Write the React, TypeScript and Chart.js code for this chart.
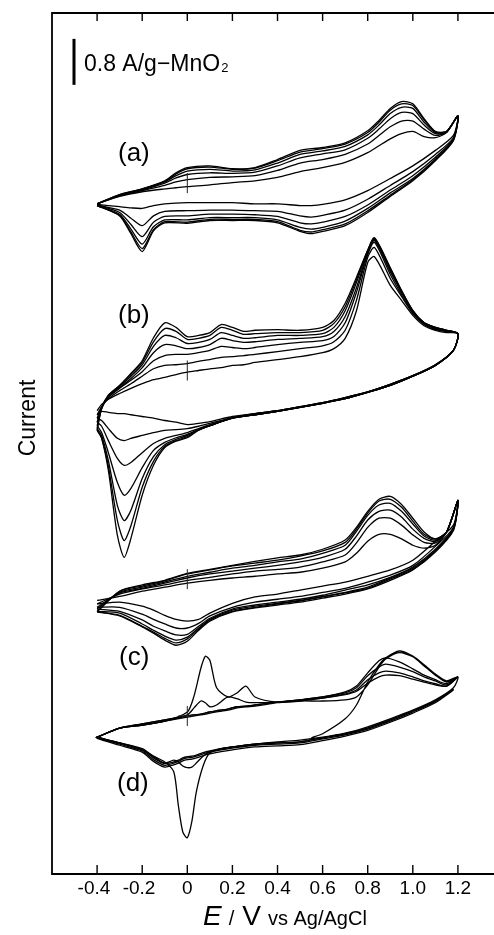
import { useEffect, useRef } from 'react';
import { Chart, registerables } from 'chart.js';

Chart.register(...registerables);

const FONT = '"Liberation Sans", Arial, Helvetica, sans-serif';

// Potential axis (V vs Ag/AgCl)
const xTicks = [-0.4, -0.2, 0, 0.2, 0.4, 0.6, 0.8, 1.0, 1.2];
const xTickLabels = ['-0.4', '-0.2', '0', '0.2', '0.4', '0.6', '0.8', '1.0', '1.2'];

// Stacked voltammograms: label and zero-current level (A/g) of each one
const panelLabels = ['(a)', '(b)', '(c)', '(d)'];
const panelZero = [4.53, 1.27, -2.36, -4.74];

// Current scale bar: 0.8 A/g per MnO2 mass
const scaleBarTop = 7.04;
const scaleBarLength = 0.8;

// ---------- (a) ----------
const aAnodicE = [-0.4, -0.3, -0.2, -0.1, -0.05, 0, 0.1, 0.2, 0.3, 0.4, 0.5, 0.6, 0.7, 0.8, 0.85, 0.9, 0.95, 1.0, 1.05, 1.1, 1.15, 1.2];
const aCathodicE = [1.18, 1.1, 1.0, 0.9, 0.8, 0.7, 0.6, 0.55, 0.5, 0.4, 0.3, 0.2, 0.1, 0, -0.1, -0.15, -0.2, -0.25, -0.3, -0.4];
const aAnodicI = [
  [-0.36, -0.23, -0.15, -0.10, -0.08, -0.06, -0.03, 0.01, 0.04, 0.10, 0.20, 0.27, 0.36, 0.53, 0.65, 0.77, 0.86, 0.90, 0.81, 0.79, 0.88, 1.17],
  [-0.36, -0.22, -0.13, -0.04, 0.02, 0.06, 0.10, 0.11, 0.13, 0.22, 0.35, 0.41, 0.50, 0.68, 0.83, 0.98, 1.08, 1.08, 0.94, 0.83, 0.89, 1.17],
  [-0.36, -0.21, -0.12, 0.00, 0.09, 0.15, 0.18, 0.17, 0.19, 0.30, 0.44, 0.51, 0.58, 0.78, 0.94, 1.12, 1.23, 1.21, 1.01, 0.86, 0.89, 1.17],
  [-0.36, -0.21, -0.11, 0.02, 0.13, 0.21, 0.24, 0.21, 0.23, 0.35, 0.50, 0.56, 0.64, 0.84, 1.01, 1.21, 1.32, 1.30, 1.06, 0.88, 0.90, 1.17],
  [-0.36, -0.20, -0.10, 0.03, 0.16, 0.25, 0.28, 0.24, 0.26, 0.39, 0.54, 0.60, 0.68, 0.88, 1.06, 1.27, 1.38, 1.35, 1.10, 0.89, 0.90, 1.17],
  [-0.36, -0.20, -0.10, 0.04, 0.18, 0.27, 0.30, 0.25, 0.27, 0.41, 0.57, 0.62, 0.70, 0.91, 1.09, 1.30, 1.42, 1.38, 1.12, 0.90, 0.90, 1.17],
];
const aCathodicI = [
  [0.83, 0.57, 0.30, 0.08, -0.13, -0.29, -0.37, -0.39, -0.39, -0.36, -0.36, -0.34, -0.34, -0.34, -0.36, -0.39, -0.44, -0.43, -0.41, -0.37],
  [0.79, 0.50, 0.20, -0.04, -0.28, -0.47, -0.56, -0.59, -0.57, -0.49, -0.48, -0.47, -0.47, -0.48, -0.49, -0.57, -0.74, -0.61, -0.47, -0.38],
  [0.77, 0.45, 0.13, -0.12, -0.38, -0.58, -0.68, -0.71, -0.69, -0.58, -0.55, -0.54, -0.54, -0.57, -0.58, -0.68, -0.93, -0.72, -0.51, -0.38],
  [0.76, 0.42, 0.08, -0.17, -0.44, -0.66, -0.77, -0.80, -0.77, -0.64, -0.60, -0.60, -0.60, -0.64, -0.64, -0.76, -1.06, -0.80, -0.54, -0.39],
  [0.75, 0.40, 0.06, -0.21, -0.48, -0.71, -0.81, -0.85, -0.82, -0.67, -0.63, -0.63, -0.63, -0.68, -0.67, -0.81, -1.14, -0.85, -0.56, -0.39],
  [0.74, 0.39, 0.04, -0.23, -0.51, -0.74, -0.84, -0.88, -0.84, -0.69, -0.65, -0.65, -0.65, -0.70, -0.69, -0.83, -1.19, -0.88, -0.57, -0.39],
];

// ---------- (b) ----------
const bAnodicE = [-0.4, -0.38, -0.35, -0.3, -0.25, -0.2, -0.15, -0.1, -0.05, 0, 0.05, 0.1, 0.15, 0.2, 0.25, 0.3, 0.4, 0.5, 0.6, 0.65, 0.7, 0.75, 0.8, 0.83, 0.9, 0.95, 1.0, 1.05, 1.1, 1.15, 1.2];
const bCathodicE = [1.18, 1.1, 1.0, 0.9, 0.8, 0.7, 0.6, 0.5, 0.4, 0.3, 0.2, 0.1, 0.05, 0, -0.05, -0.1, -0.15, -0.2, -0.25, -0.28, -0.31, -0.35, -0.38, -0.4];
const bAnodicI = [
  [-0.70, -0.59, -0.50, -0.40, -0.31, -0.23, -0.16, -0.12, -0.07, -0.03, 0.00, 0.03, 0.05, 0.09, 0.10, 0.14, 0.19, 0.24, 0.31, 0.38, 0.56, 1.04, 1.88, 1.98, 1.48, 1.22, 0.96, 0.78, 0.70, 0.66, 0.64],
  [-0.77, -0.63, -0.49, -0.35, -0.23, -0.10, 0.03, 0.09, 0.10, 0.12, 0.16, 0.19, 0.23, 0.24, 0.26, 0.28, 0.33, 0.38, 0.43, 0.50, 0.70, 1.22, 1.97, 2.14, 1.60, 1.29, 0.99, 0.80, 0.71, 0.68, 0.64],
  [-0.83, -0.64, -0.47, -0.31, -0.17, -0.02, 0.17, 0.26, 0.28, 0.28, 0.31, 0.35, 0.42, 0.40, 0.38, 0.40, 0.45, 0.49, 0.52, 0.59, 0.83, 1.36, 2.02, 2.23, 1.67, 1.32, 1.01, 0.82, 0.73, 0.68, 0.64],
  [-0.90, -0.64, -0.45, -0.30, -0.14, 0.05, 0.31, 0.45, 0.43, 0.38, 0.40, 0.45, 0.56, 0.52, 0.49, 0.50, 0.54, 0.56, 0.59, 0.68, 0.94, 1.44, 2.05, 2.26, 1.72, 1.36, 1.03, 0.82, 0.73, 0.68, 0.64],
  [-0.96, -0.66, -0.45, -0.28, -0.10, 0.10, 0.42, 0.61, 0.57, 0.47, 0.49, 0.54, 0.66, 0.61, 0.56, 0.57, 0.61, 0.61, 0.64, 0.75, 1.04, 1.53, 2.07, 2.28, 1.76, 1.37, 1.04, 0.83, 0.75, 0.70, 0.64],
  [-1.01, -0.66, -0.43, -0.26, -0.07, 0.14, 0.50, 0.73, 0.68, 0.54, 0.56, 0.61, 0.75, 0.70, 0.63, 0.64, 0.66, 0.66, 0.70, 0.82, 1.11, 1.58, 2.09, 2.30, 1.77, 1.39, 1.04, 0.83, 0.75, 0.70, 0.64],
  [-1.04, -0.66, -0.43, -0.26, -0.05, 0.17, 0.57, 0.83, 0.75, 0.59, 0.61, 0.66, 0.80, 0.75, 0.68, 0.70, 0.71, 0.70, 0.75, 0.87, 1.17, 1.62, 2.09, 2.31, 1.79, 1.39, 1.04, 0.83, 0.75, 0.70, 0.64],
];
const bCathodicI = [
  [0.35, 0.10, -0.09, -0.24, -0.37, -0.47, -0.56, -0.63, -0.70, -0.75, -0.80, -0.89, -0.92, -0.94, -0.90, -0.87, -0.83, -0.80, -0.77, -0.75, -0.75, -0.73, -0.71, -0.77],
  [0.35, 0.10, -0.09, -0.24, -0.37, -0.47, -0.56, -0.63, -0.70, -0.75, -0.82, -0.92, -0.97, -1.01, -1.03, -1.04, -1.08, -1.13, -1.18, -1.22, -1.18, -1.01, -0.87, -0.83],
  [0.35, 0.09, -0.09, -0.24, -0.37, -0.47, -0.56, -0.63, -0.70, -0.75, -0.82, -0.94, -1.01, -1.08, -1.13, -1.18, -1.27, -1.43, -1.60, -1.65, -1.53, -1.22, -0.97, -0.90],
  [0.35, 0.09, -0.10, -0.26, -0.38, -0.49, -0.57, -0.64, -0.71, -0.77, -0.83, -0.96, -1.03, -1.11, -1.17, -1.25, -1.39, -1.69, -2.05, -2.17, -1.95, -1.43, -1.08, -0.96],
  [0.35, 0.09, -0.10, -0.26, -0.38, -0.49, -0.57, -0.64, -0.71, -0.77, -0.83, -0.96, -1.03, -1.13, -1.20, -1.29, -1.50, -1.88, -2.43, -2.61, -2.35, -1.57, -1.13, -1.01],
  [0.35, 0.09, -0.10, -0.26, -0.38, -0.49, -0.57, -0.64, -0.71, -0.77, -0.83, -0.96, -1.04, -1.15, -1.22, -1.32, -1.58, -2.03, -2.70, -2.96, -2.61, -1.67, -1.17, -1.04],
  [0.35, 0.09, -0.10, -0.26, -0.38, -0.49, -0.57, -0.64, -0.71, -0.77, -0.83, -0.96, -1.04, -1.17, -1.23, -1.34, -1.65, -2.17, -2.92, -3.25, -2.87, -1.74, -1.18, -1.04],
];

// ---------- (c) ----------
const cAnodicE = [-0.4, -0.3, -0.2, -0.1, 0, 0.1, 0.2, 0.3, 0.4, 0.5, 0.6, 0.7, 0.75, 0.8, 0.85, 0.9, 0.95, 1.0, 1.05, 1.1, 1.15, 1.2];
const cCathodicE = [1.18, 1.1, 1.0, 0.9, 0.8, 0.7, 0.6, 0.5, 0.4, 0.3, 0.2, 0.1, 0.05, 0, -0.05, -0.1, -0.15, -0.2, -0.3, -0.4];
const cAnodicI = [
  [-0.37, -0.30, -0.21, -0.14, -0.07, -0.02, 0.02, 0.05, 0.09, 0.12, 0.19, 0.30, 0.45, 0.66, 0.78, 0.78, 0.70, 0.59, 0.54, 0.59, 0.82, 1.37],
  [-0.43, -0.26, -0.17, -0.10, -0.02, 0.03, 0.09, 0.14, 0.17, 0.21, 0.30, 0.42, 0.63, 0.90, 1.06, 1.06, 0.94, 0.77, 0.64, 0.63, 0.82, 1.37],
  [-0.49, -0.24, -0.16, -0.07, 0.02, 0.09, 0.14, 0.19, 0.24, 0.30, 0.38, 0.52, 0.75, 1.03, 1.18, 1.20, 1.08, 0.87, 0.71, 0.66, 0.82, 1.37],
  [-0.52, -0.23, -0.14, -0.05, 0.05, 0.12, 0.19, 0.24, 0.30, 0.35, 0.45, 0.59, 0.83, 1.11, 1.29, 1.32, 1.18, 0.96, 0.75, 0.68, 0.82, 1.37],
  [-0.56, -0.21, -0.12, -0.03, 0.09, 0.16, 0.23, 0.28, 0.33, 0.40, 0.49, 0.64, 0.87, 1.15, 1.36, 1.39, 1.25, 1.01, 0.78, 0.70, 0.82, 1.37],
  [-0.57, -0.21, -0.10, -0.02, 0.10, 0.17, 0.24, 0.31, 0.37, 0.42, 0.52, 0.68, 0.90, 1.18, 1.39, 1.44, 1.30, 1.06, 0.82, 0.70, 0.82, 1.37],
];
const cCathodicI = [
  [0.94, 0.66, 0.33, 0.16, 0.05, -0.05, -0.12, -0.19, -0.26, -0.31, -0.42, -0.59, -0.70, -0.73, -0.70, -0.63, -0.54, -0.47, -0.40, -0.43],
  [0.90, 0.57, 0.24, 0.07, -0.05, -0.16, -0.23, -0.30, -0.35, -0.40, -0.49, -0.64, -0.77, -0.85, -0.85, -0.78, -0.70, -0.61, -0.49, -0.49],
  [0.89, 0.52, 0.21, 0.03, -0.10, -0.19, -0.28, -0.35, -0.40, -0.45, -0.52, -0.68, -0.82, -0.96, -0.97, -0.90, -0.82, -0.71, -0.56, -0.52],
  [0.87, 0.50, 0.19, 0.02, -0.14, -0.23, -0.30, -0.37, -0.42, -0.47, -0.54, -0.70, -0.85, -1.01, -1.06, -0.99, -0.89, -0.78, -0.59, -0.56],
  [0.85, 0.49, 0.17, 0.00, -0.16, -0.24, -0.31, -0.38, -0.43, -0.49, -0.56, -0.71, -0.87, -1.04, -1.11, -1.03, -0.92, -0.82, -0.63, -0.57],
  [0.85, 0.47, 0.16, -0.02, -0.17, -0.26, -0.33, -0.40, -0.45, -0.50, -0.57, -0.73, -0.89, -1.08, -1.15, -1.06, -0.94, -0.83, -0.64, -0.57],
];

// ---------- (d) ----------
// first scan starts near the rest potential and runs anodically
const dStartE = [0.55, 0.6, 0.7, 0.75, 0.8, 0.85, 0.88, 0.94, 1.0, 1.05, 1.1, 1.15, 1.2];
const dStartI = [-0.38, -0.31, -0.05, 0.19, 0.59, 0.89, 1.01, 1.13, 1.04, 0.89, 0.73, 0.61, 0.68];
const dCathodicE = [1.18, 1.1, 1.0, 0.9, 0.8, 0.7, 0.6, 0.5, 0.4, 0.3, 0.2, 0.15, 0.1, 0.07, 0.04, 0.02, 0, -0.02, -0.04, -0.06, -0.1, -0.15, -0.2, -0.3, -0.4];
const dAnodicE = [-0.4, -0.3, -0.2, -0.1, 0, 0.03, 0.06, 0.08, 0.1, 0.13, 0.18, 0.22, 0.26, 0.3, 0.4, 0.5, 0.6, 0.7, 0.75, 0.8, 0.85, 0.88, 0.94, 1.0, 1.05, 1.1, 1.15, 1.2];
const dCathodicI = [
  [0.49, 0.28, 0.10, -0.05, -0.19, -0.30, -0.37, -0.42, -0.45, -0.49, -0.54, -0.57, -0.64, -0.87, -1.32, -1.84, -2.12, -2.02, -1.55, -0.97, -0.80, -0.70, -0.57, -0.47, -0.37],
  [0.47, 0.26, 0.09, -0.07, -0.21, -0.31, -0.38, -0.45, -0.47, -0.49, -0.54, -0.57, -0.63, -0.70, -0.82, -0.89, -0.90, -0.87, -0.80, -0.77, -0.82, -0.71, -0.59, -0.47, -0.37],
  [0.47, 0.26, 0.09, -0.07, -0.21, -0.31, -0.38, -0.45, -0.47, -0.49, -0.54, -0.57, -0.61, -0.64, -0.68, -0.70, -0.71, -0.73, -0.77, -0.80, -0.83, -0.73, -0.59, -0.47, -0.37],
  [0.46, 0.25, 0.07, -0.09, -0.23, -0.33, -0.40, -0.47, -0.49, -0.51, -0.56, -0.59, -0.63, -0.66, -0.70, -0.72, -0.73, -0.75, -0.79, -0.82, -0.86, -0.76, -0.61, -0.49, -0.38],
  [0.45, 0.23, 0.05, -0.11, -0.25, -0.35, -0.43, -0.50, -0.52, -0.54, -0.59, -0.62, -0.66, -0.69, -0.73, -0.75, -0.76, -0.78, -0.82, -0.85, -0.89, -0.79, -0.63, -0.51, -0.39],
];
const dAnodicI = [
  [-0.37, -0.21, -0.16, -0.09, 0.07, 0.35, 0.83, 1.04, 0.97, 0.49, 0.33, 0.40, 0.52, 0.33, 0.24, 0.26, 0.26, 0.28, 0.33, 0.54, 0.85, 0.99, 1.10, 1.03, 0.87, 0.71, 0.59, 0.68],
  [-0.37, -0.21, -0.16, -0.09, 0.02, 0.14, 0.26, 0.23, 0.16, 0.19, 0.33, 0.30, 0.24, 0.23, 0.24, 0.28, 0.31, 0.37, 0.43, 0.57, 0.68, 0.71, 0.70, 0.64, 0.59, 0.54, 0.52, 0.68],
  [-0.37, -0.21, -0.16, -0.09, -0.02, 0.00, 0.02, 0.03, 0.05, 0.07, 0.10, 0.14, 0.16, 0.17, 0.23, 0.26, 0.31, 0.38, 0.45, 0.63, 0.75, 0.78, 0.75, 0.68, 0.61, 0.56, 0.52, 0.68],
  [-0.37, -0.21, -0.14, -0.07, 0.00, 0.02, 0.03, 0.05, 0.07, 0.09, 0.12, 0.16, 0.17, 0.19, 0.24, 0.28, 0.33, 0.40, 0.49, 0.70, 0.85, 0.90, 0.85, 0.77, 0.68, 0.61, 0.54, 0.68],
  [-0.37, -0.21, -0.14, -0.07, 0.00, 0.02, 0.03, 0.05, 0.07, 0.09, 0.12, 0.16, 0.17, 0.19, 0.24, 0.28, 0.33, 0.42, 0.52, 0.75, 0.96, 1.01, 0.94, 0.82, 0.71, 0.63, 0.56, 0.68],
];

type Pt = { x: number; y: number };

function sweep(E: number[], I: number[], zero: number): Pt[] {
  return E.map((e, k) => ({ x: e, y: I[k] + zero }));
}

function cycles(anE: number[], anI: number[][], caE: number[], caI: number[][], zero: number): Pt[][] {
  return anI.map((_, i) => [...sweep(anE, anI[i], zero), ...sweep(caE, caI[i], zero)]);
}

function buildCurves(): Pt[][] {
  const out: Pt[][] = [];
  out.push(...cycles(aAnodicE, aAnodicI, aCathodicE, aCathodicI, panelZero[0]));
  out.push(...cycles(bAnodicE, bAnodicI, bCathodicE, bCathodicI, panelZero[1]));
  out.push(...cycles(cAnodicE, cAnodicI, cCathodicE, cCathodicI, panelZero[2]));
  dCathodicI.forEach((_, i) => {
    const pts = [...sweep(dCathodicE, dCathodicI[i], panelZero[3]), ...sweep(dAnodicE, dAnodicI[i], panelZero[3])];
    out.push(i === 0 ? [...sweep(dStartE, dStartI, panelZero[3]), ...pts] : pts);
  });
  return out;
}

const decorations = {
  id: 'cvDecorations',
  afterDraw(chart: any) {
    const { ctx, chartArea: a, scales } = chart;
    const x = scales.x;
    const y = scales.y;
    ctx.save();
    ctx.strokeStyle = '#000';
    ctx.fillStyle = '#000';

    // frame: left, top and bottom
    ctx.lineWidth = 1.8;
    ctx.beginPath();
    ctx.moveTo(a.right, a.top);
    ctx.lineTo(a.left, a.top);
    ctx.lineTo(a.left, a.bottom);
    ctx.lineTo(a.right, a.bottom);
    ctx.stroke();

    // inward ticks on the top and bottom axes
    ctx.lineWidth = 1.4;
    xTicks.forEach((t) => {
      const px = x.getPixelForValue(t);
      ctx.beginPath();
      ctx.moveTo(px, a.bottom);
      ctx.lineTo(px, a.bottom - 9);
      ctx.moveTo(px, a.top);
      ctx.lineTo(px, a.top + 8);
      ctx.stroke();
    });

    // tick labels (a leading minus hangs to the left)
    ctx.font = `19px ${FONT}`;
    ctx.textAlign = 'center';
    ctx.textBaseline = 'alphabetic';
    const minusW = ctx.measureText('-').width;
    xTicks.forEach((t, i) => {
      const lab = xTickLabels[i];
      const shift = lab.startsWith('-') ? minusW / 2 : 0;
      ctx.fillText(lab, x.getPixelForValue(t) - shift, a.bottom + 19.5);
    });

    // x title: E / V vs Ag/AgCl
    ctx.textAlign = 'left';
    const base = a.bottom + 51;
    let cx = 203;
    ctx.font = `italic 28px ${FONT}`;
    ctx.fillText('E', cx, base);
    cx += ctx.measureText('E').width + 7;
    ctx.font = `20px ${FONT}`;
    ctx.fillText('/', cx, base);
    cx += ctx.measureText('/').width + 8;
    ctx.font = `28px ${FONT}`;
    ctx.fillText('V', cx, base);
    cx += ctx.measureText('V').width + 7;
    ctx.font = `20px ${FONT}`;
    ctx.fillText('vs Ag/AgCl', cx, base);

    // y title
    ctx.save();
    ctx.translate(35, 418);
    ctx.rotate(-Math.PI / 2);
    ctx.textAlign = 'center';
    ctx.font = `23px ${FONT}`;
    ctx.fillText('Current', 0, 0);
    ctx.restore();

    // scale bar
    const yb0 = y.getPixelForValue(scaleBarTop);
    const yb1 = y.getPixelForValue(scaleBarTop - scaleBarLength);
    ctx.fillRect(72.5, yb0, 3, yb1 - yb0);
    ctx.font = `23px ${FONT}`;
    ctx.textAlign = 'left';
    const sbText = '0.8 A/g\u2212MnO';
    ctx.fillText(sbText, 84, 71);
    const sbW = ctx.measureText(sbText).width;
    ctx.font = `13px ${FONT}`;
    ctx.fillText('2', 84 + sbW + 1, 72);

    // panel labels
    const labelPos = [[118, 161], [118, 323], [119, 665], [117, 791]];
    ctx.font = `26px ${FONT}`;
    panelLabels.forEach((lab, i) => ctx.fillText(lab, labelPos[i][0], labelPos[i][1]));

    // zero-current markers at E = 0
    ctx.lineWidth = 1;
    ctx.strokeStyle = '#222';
    const x0 = x.getPixelForValue(0);
    panelZero.forEach((z, i) => {
      const py = y.getPixelForValue(z);
      ctx.beginPath();
      ctx.moveTo(x0, py - 10);
      ctx.lineTo(x0, py + 10);
      if (i === 3) {
        ctx.moveTo(x0 - 9, py);
        ctx.lineTo(x0 + 7, py);
      }
      ctx.stroke();
    });

    ctx.restore();
  },
};

export default function App() {
  const ref = useRef<HTMLCanvasElement>(null);

  useEffect(() => {
    const curves = buildCurves();
    const chart = new Chart(ref.current as HTMLCanvasElement, {
      type: 'scatter',
      data: {
        datasets: curves.map((pts) => ({
          data: pts,
          showLine: true,
          borderColor: '#000',
          borderWidth: 1.3,
          pointRadius: 0,
          tension: 0.25,
          fill: false,
        })),
      },
      options: {
        animation: false,
        responsive: false,
        devicePixelRatio: 1,
        layout: { padding: { left: 52, right: 0, top: 13, bottom: 61 } },
        plugins: { legend: { display: false }, tooltip: { enabled: false } },
        events: [],
        scales: {
          x: { type: 'linear', min: -0.6, max: 1.36, display: false },
          y: { type: 'linear', min: -7.49, max: 7.49, display: false },
        },
      },
      plugins: [decorations],
    });
    return () => chart.destroy();
  }, []);

  return (
    <div style={{ position: 'absolute', left: 0, top: 0, width: 494, height: 935, background: '#fff' }}>
      <canvas ref={ref} width={494} height={935} style={{ display: 'block', width: 494, height: 935 }} />
    </div>
  );
}
